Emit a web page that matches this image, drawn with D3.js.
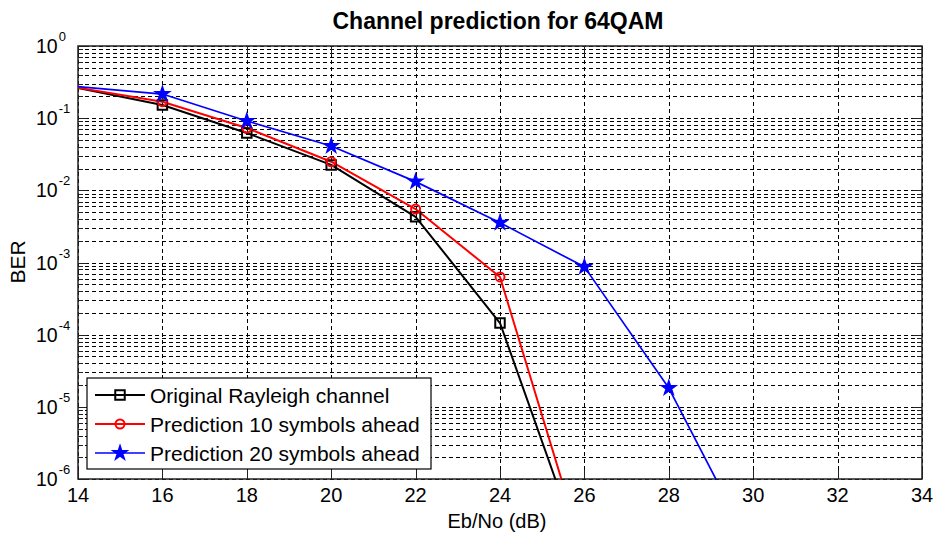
<!DOCTYPE html>
<html>
<head>
<meta charset="utf-8">
<script src="https://cdn.jsdelivr.net/npm/d3@7"></script>
<style>
  html, body { margin: 0; padding: 0; background: #fff; }
  svg { display: block; font-family: "Liberation Sans", Arial, sans-serif; }
</style>
</head>
<body>
<svg id="chart" width="934" height="536"></svg>
<script>
// Eb/No grid (dB) and measured bit error rates
const ebnoShort = [12, 16, 18, 20, 22, 24, 26];
const berOriginal = [0.45, 0.152, 0.0623, 0.0225, 0.0043, 1.45e-4, 7.3e-8];
const berPred10 = [0.41, 0.169, 0.073, 0.0249, 0.0055, 6.3e-4, 8.9e-8];
const ebnoLong = [12, 16, 18, 20, 22, 24, 26, 28, 30];
const berPred20 = [0.345, 0.216, 0.0914, 0.0411, 0.0132, 3.56e-3, 8.7e-4, 1.82e-5, 1.0e-7];

const seriesNames = ["Original Rayleigh channel", "Prediction 10 symbols ahead", "Prediction 20 symbols ahead"];
const seriesColors = ["#000000", "#ff0000", "#0000ff"];
const seriesMarkers = ["square", "circle", "star"];

const xTicks = [14, 16, 18, 20, 22, 24, 26, 28, 30, 32, 34];
const yTickExponents = [0, -1, -2, -3, -4, -5, -6];

const series = [
  { name: seriesNames[0], x: ebnoShort, y: berOriginal, color: seriesColors[0], marker: seriesMarkers[0], width: 2 },
  { name: seriesNames[1], x: ebnoShort, y: berPred10, color: seriesColors[1], marker: seriesMarkers[1], width: 2 },
  { name: seriesNames[2], x: ebnoLong, y: berPred20, color: seriesColors[2], marker: seriesMarkers[2], width: 1.7 }
];

const svg = d3.select("#chart");
const plot = { left: 78, right: 922, top: 46, bottom: 479 };

const x = d3.scaleLinear().domain([14, 34]).range([plot.left, plot.right]);
const y = d3.scaleLog().domain([1e-6, 1]).range([plot.bottom, plot.top]);

svg.append("defs").append("clipPath").attr("id", "plotClip")
  .append("rect")
  .attr("x", plot.left).attr("y", plot.top)
  .attr("width", plot.right - plot.left).attr("height", plot.bottom - plot.top);

// Dashed grid: vertical at x ticks, horizontal at every decade and its minor steps
const grid = svg.append("g").attr("stroke", "#000").attr("stroke-width", 1)
  .attr("stroke-dasharray", "4,3").attr("shape-rendering", "crispEdges");
xTicks.forEach(t => {
  grid.append("line").attr("x1", Math.round(x(t)) + 0.5).attr("x2", Math.round(x(t)) + 0.5)
    .attr("y1", plot.top).attr("y2", plot.bottom);
});
const minorVals = [];
for (let e = -6; e < 0; e++) {
  for (let m = 1; m <= 9; m++) minorVals.push(m * Math.pow(10, e));
}
minorVals.push(1);
minorVals.forEach(v => {
  grid.append("line").attr("x1", plot.left).attr("x2", plot.right)
    .attr("y1", Math.round(y(v)) + 0.5).attr("y2", Math.round(y(v)) + 0.5);
});

// Tick marks inside the frame on all sides
const ticks = svg.append("g").attr("stroke", "#222").attr("stroke-width", 1).attr("shape-rendering", "crispEdges");
xTicks.forEach(t => {
  const px = Math.round(x(t)) + 0.5;
  ticks.append("line").attr("x1", px).attr("x2", px).attr("y1", plot.bottom).attr("y2", plot.bottom - 9);
  ticks.append("line").attr("x1", px).attr("x2", px).attr("y1", plot.top).attr("y2", plot.top + 9);
});
minorVals.forEach(v => {
  const py = Math.round(y(v)) + 0.5;
  const major = Math.abs(Math.log10(v) - Math.round(Math.log10(v))) < 1e-9;
  const len = major ? 9 : 5;
  ticks.append("line").attr("x1", plot.left).attr("x2", plot.left + len).attr("y1", py).attr("y2", py);
  ticks.append("line").attr("x1", plot.right).attr("x2", plot.right - len).attr("y1", py).attr("y2", py);
});

// Frame
svg.append("rect")
  .attr("x", plot.left).attr("y", plot.top)
  .attr("width", plot.right - plot.left).attr("height", plot.bottom - plot.top)
  .attr("fill", "none").attr("stroke", "#222").attr("stroke-width", 1.5);

// Curves and markers
const starPath = d3.symbol().type(d3.symbolStar).size(62)();
const squarePath = d3.symbol().type(d3.symbolSquare).size(90)();

function drawMarker(g, kind, color, cx, cy) {
  if (kind === "circle") {
    g.append("circle").attr("cx", cx).attr("cy", cy).attr("r", 4.5)
      .attr("fill", "none").attr("stroke", color).attr("stroke-width", 2);
  } else if (kind === "square") {
    g.append("path").attr("d", squarePath).attr("transform", `translate(${cx},${cy})`)
      .attr("fill", "none").attr("stroke", color).attr("stroke-width", 2);
  } else {
    g.append("path").attr("d", starPath).attr("transform", `translate(${cx},${cy})`)
      .attr("fill", color).attr("stroke", color).attr("stroke-width", 1.5)
      .attr("stroke-linejoin", "miter");
  }
}

const curves = svg.append("g").attr("clip-path", "url(#plotClip)");
const line = d3.line().x(d => x(d[0])).y(d => y(d[1]));
series.forEach(s => {
  const pts = s.x.map((v, i) => [v, s.y[i]]);
  curves.append("path").datum(pts).attr("d", line)
    .attr("fill", "none").attr("stroke", s.color).attr("stroke-width", s.width)
    .attr("stroke-linejoin", "round");
});
series.forEach(s => {
  s.x.forEach((v, i) => {
    drawMarker(curves, s.marker, s.color, x(v), y(s.y[i]));
  });
});

// X tick labels
const xl = svg.append("g").attr("font-size", 20).attr("fill", "#000").attr("text-anchor", "middle");
xTicks.forEach(t => {
  xl.append("text").attr("x", x(t)).attr("y", 502).text(t);
});

// Y tick labels as powers of ten
const yl = svg.append("g").attr("fill", "#000");
yTickExponents.forEach(e => {
  const py = y(Math.pow(10, e));
  const t = yl.append("text").attr("x", 36).attr("y", py + 7).attr("font-size", 19.5);
  t.append("tspan").text("10");
  t.append("tspan").attr("dy", -12).attr("dx", 1).attr("font-size", 13).text(String(e));
});

// Title and axis labels
svg.append("text").attr("x", 498).attr("y", 29).attr("text-anchor", "middle")
  .attr("font-size", 23).attr("font-weight", "bold").text("Channel prediction for 64QAM");
svg.append("text").attr("x", 497).attr("y", 528).attr("text-anchor", "middle")
  .attr("font-size", 20).text("Eb/No (dB)");
svg.append("text").attr("transform", "translate(25,262) rotate(-90)").attr("text-anchor", "middle")
  .attr("font-size", 21).text("BER");

// Legend
const legend = svg.append("g");
legend.append("rect").attr("x", 87).attr("y", 378).attr("width", 344).attr("height", 91)
  .attr("fill", "#fff").attr("stroke", "#000").attr("stroke-width", 1.2);
const rowY = [395, 424, 453];
series.forEach((s, i) => {
  legend.append("line").attr("x1", 95).attr("x2", 145).attr("y1", rowY[i]).attr("y2", rowY[i])
    .attr("stroke", s.color).attr("stroke-width", s.width);
  drawMarker(legend, s.marker, s.color, 120, rowY[i]);
  legend.append("text").attr("x", 150).attr("y", rowY[i] + 7.5).attr("font-size", 21)
    .attr("fill", "#000").text(s.name);
});
</script>
</body>
</html>
